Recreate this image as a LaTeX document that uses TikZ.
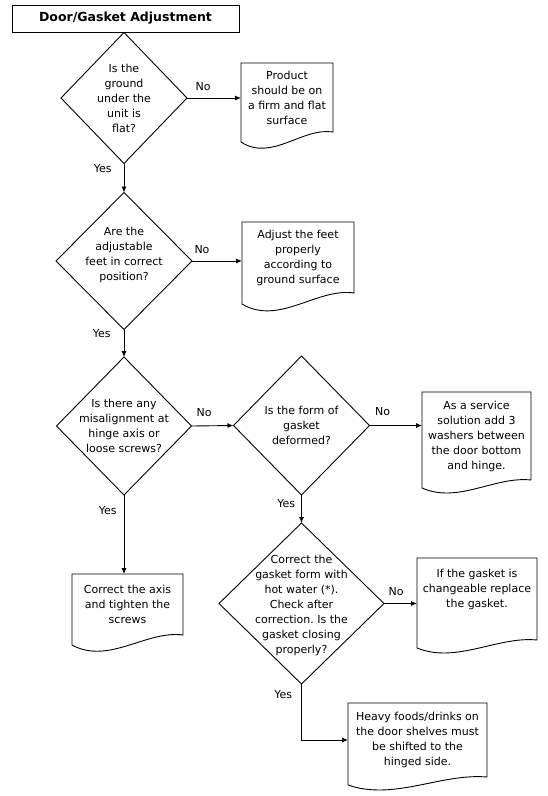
\documentclass[tikz,border=0pt]{standalone}
\usepackage{fontspec}
\setmainfont{DejaVu Sans}
\usetikzlibrary{shapes.geometric,arrows.meta,calc}
\frenchspacing
\newcommand\docdraw[2]{%
  \draw[line] let \p1=(#1.south west), \p2=(#1.north east),
    \p3=($(#1.south west)!0.33!(#1.south east)$),
    \p4=($(#1.south west)!0.67!(#1.south east)$) in
    (\x1,\y1-#2) -- (\x1,\y2) -- (\x2,\y2) -- (\x2,\y1)
    .. controls (\x4,\y1+0.5*#2) and (\x3,\y1-3*#2) .. (\x1,\y1-#2) -- cycle;}
\tikzset{
  line/.style={draw=black, line width=0.9pt},
  arr/.style={line, -{Latex[length=6pt,width=5pt]}},
  txt/.style={font=\fontsize{11}{15}\selectfont, align=center, inner sep=0pt},
  dia/.style={diamond, draw=black, line width=0.9pt, inner sep=0pt, outer sep=0pt},
  doc/.style={rectangle, inner sep=0pt, outer sep=0pt, align=center, font=\fontsize{11}{15}\selectfont},
  lab/.style={font=\fontsize{11}{13}\selectfont, inner sep=1pt},
}
\begin{document}
\begin{tikzpicture}[x=1pt,y=-1pt]
\useasboundingbox (0,0) rectangle (547,796);
% title
\node[draw=black, line width=0.9pt, minimum width=227pt, minimum height=27pt, inner sep=0pt,
      font=\bfseries\fontsize{12.5}{14}\selectfont] (title) at (125.5,18.5) {Door/Gasket Adjustment};
% decisions
\node[dia, minimum width=126pt, minimum height=131pt,
      label={[txt]center:{Is the\\ground\\under the\\unit is\\flat?}}] (q1) at (124,98) {};
\node[dia, minimum width=136pt, minimum height=137pt,
      label={[txt,yshift=6pt]center:{Are the\\adjustable\\feet in correct\\position?}}] (q2) at (124,261) {};
\node[dia, minimum width=135pt, minimum height=138pt,
      label={[txt]center:{Is there any\\misalignment at\\hinge axis or\\loose screws?}}] (q3) at (124,426) {};
\node[dia, minimum width=136pt, minimum height=139pt,
      label={[txt]center:{Is the form of\\gasket\\deformed?}}] (q4) at (301.5,425.5) {};
\node[dia, minimum width=165pt, minimum height=161pt,
      label={[txt,yshift=-2pt]center:{Correct the\\gasket form with\\hot water (*).\\Check after\\correction. Is the\\gasket closing\\properly?}}] (q5) at (301.5,603.5) {};
% documents
\node[doc, minimum width=92pt, minimum height=69pt] (a1) at (287,97.5) {Product\\should be on\\a firm and flat\\surface};
\node[doc, minimum width=112pt, minimum height=71pt] (a2) at (298,257.5) {Adjust the feet\\properly\\according to\\ground surface};
\node[doc, minimum width=109pt, minimum height=88pt] (a3) at (476.5,436) {As a service\\solution add 3\\washers between\\the door bottom\\and hinge.};
\node[doc, minimum width=111pt, minimum height=61pt] (a4) at (127.5,604.5) {Correct the axis\\and tighten the\\screws};
\node[doc, minimum width=120pt, minimum height=82pt,
      label={[txt,yshift=10pt]center:{If the gasket is\\changeable replace\\the gasket.}}] (a5) at (477,599) {};
\node[doc, minimum width=139pt, minimum height=74pt] (a6) at (417.5,740) {Heavy foods/drinks on\\the door shelves must\\be shifted to the\\hinged side.};
\docdraw{a1}{10pt}
\docdraw{a2}{11pt}
\docdraw{a3}{8pt}
\docdraw{a4}{10pt}
\docdraw{a5}{8pt}
\docdraw{a6}{8pt}
% connectors
\draw[arr] (q1.south) -- node[lab,pos=0.17,left=11pt]{Yes} (q2.north);
\draw[arr] (q1.east) -- node[lab,pos=0.3,above=6pt]{No} (q1.east -| a1.west);
\draw[arr] (q2.south) -- node[lab,pos=0.15,left=12pt]{Yes} (q3.north);
\draw[arr] (q2.east) -- node[lab,pos=0.2,above=6pt]{No} (q2.east -| a2.west);
\draw[arr] (q3.east) -- node[lab,pos=0.3,above=8pt]{No} (q4.west);
\draw[arr] (q3.south) -- node[lab,pos=0.2,left=6pt]{Yes} (q3.south |- a4.north);
\draw[arr] (q4.east) -- node[lab,pos=0.25,above=8pt]{No} (q4.east -| a3.west);
\draw[arr] (q4.south) -- node[lab,pos=0.32,left=5pt]{Yes} (q5.north);
\draw[arr] (q5.east) -- node[lab,pos=0.37,above=6pt]{No} (q5.east -| a5.west);
\draw[arr] (q5.south) |- node[lab,pos=0.095,left=8pt]{Yes} (a6.west);
\end{tikzpicture}
\end{document}
